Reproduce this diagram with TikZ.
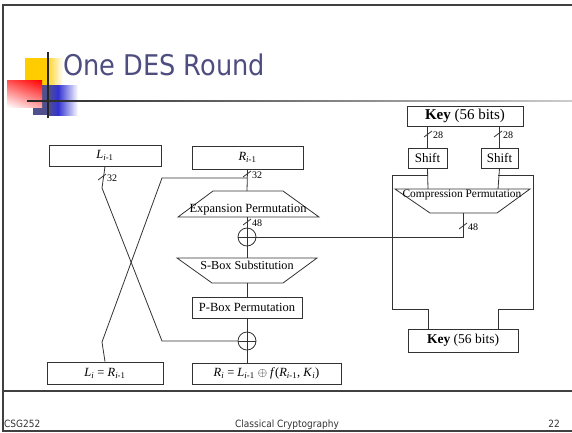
\documentclass[tikz,border=0pt]{standalone}
\usepackage{fontspec}
\setmainfont{Liberation Serif}
\newfontfamily\slidefont{DejaVu Sans Condensed}
\usetikzlibrary{shadings}
\definecolor{titleblue}{RGB}{78,77,128}
\definecolor{linegray}{RGB}{50,50,50}
\definecolor{framegray}{RGB}{64,64,64}
\definecolor{deco yellow}{RGB}{255,204,0}
\definecolor{deco blue}{RGB}{80,80,140}
\definecolor{deco bright}{RGB}{50,50,210}
\newcommand{\imo}{\textsubscript{\itshape i\upshape -1}}
\newcommand{\isub}{\textsubscript{\itshape i}}
\tikzset{
  box/.style={draw=linegray, line width=0.8pt, inner sep=0pt, font=\fontsize{12.5}{14}\selectfont},
  boxtext/.style={inner sep=0pt, font=\fontsize{12.5}{14}\selectfont},
  bits/.style={anchor=west, inner sep=0pt, font=\fontsize{10}{11}\selectfont},
  xor/.style={circle, draw=linegray, line width=0.8pt, minimum size=18pt, inner sep=0pt,
    path picture={\draw[linegray, line width=0.8pt] (path picture bounding box.north) -- (path picture bounding box.south)
      (path picture bounding box.west) -- (path picture bounding box.east);}},
  wire/.style={linegray, line width=0.8pt},
  foot/.style={anchor=base, inner sep=0pt, text=black!80, font=\slidefont\fontsize{10}{12}\selectfont}
}
\begin{document}
\begin{tikzpicture}[x=1pt,y=-1pt]
\useasboundingbox (0,0) rectangle (572,432);
% Slide frame
\draw[framegray, line width=2pt] (3,4.5) -- (572,4.5);
\draw[framegray, line width=1.5pt] (3,4) -- (3,432);
\draw[framegray, line width=1.5pt] (3,391) -- (572,391);
\draw[framegray, line width=1.5pt] (3,431) -- (572,431);

% Title decoration
\fill[deco yellow] (25,58) rectangle (45,85);
\shade[left color=deco yellow, right color=white] (45,58) rectangle (63,85);
\fill[deco blue] (33,85) rectangle (48,115);
\shade[left color=deco blue, right color=deco bright] (48,85) rectangle (58,115);
\shade[left color=deco bright, right color=white] (58,85) rectangle (78,115);
\shade[upper right=red, upper left=red!70!white, lower right=red!35!white, lower left=white] (7,80) rectangle (42,107);
\draw[black!85, line width=1.5pt] (48,52) -- (48,118);
\shade[left color=black!85, right color=black!20] (27,100.2) rectangle (572,101.8);
\node[anchor=base west, inner sep=0pt, text=titleblue, font=\slidefont\fontsize{28.5}{31}\selectfont] (title) at (63,75) {One DES Round};

% Left and right halves
\node[box, minimum width=112pt, minimum height=21pt] (lprev) at (105,155.5) {\textit{L}\imo};
\node[box, minimum width=111pt, minimum height=23pt] (rprev) at (247.5,157.5) {\textit{R}\imo};
\node[box, minimum width=116pt, minimum height=22pt] (lnext) at (105,373) {\textit{L}\isub{} = \textit{R}\imo};
\node[box, minimum width=149pt, minimum height=21pt] (rnext) at (266.5,373.5) {\textit{R}\isub{} = \textit{L}\imo{} $\oplus$ \textit{f}(\textit{R}\imo, \textit{K}\isub)};

% Expansion permutation
\coordinate (exptop) at (247,191);
\coordinate (expbot) at (247,217);
\draw[wire] (213,191) -- (283,191) -- (319,217) -- (178,217) -- cycle;
\node[boxtext] (exptext) at (248,210) {Expansion Permutation};

% XOR nodes
\node[xor] (xa) at (247,237) {};
\node[xor] (xb) at (247,341) {};

% S-box substitution
\coordinate (sboxtop) at (247,258);
\coordinate (sboxbot) at (247,283);
\draw[wire] (177,258) -- (317,258) -- (283,283) -- (212,283) -- cycle;
\node[boxtext, font=\fontsize{12.2}{14}\selectfont] (sboxtext) at (247,265) {S-Box Substitution};

\node[box, minimum width=110pt, minimum height=21pt] (pbox) at (247,307.5) {P-Box Permutation};

% Key schedule
\node[box, minimum width=116pt, minimum height=20pt, font=\fontsize{15}{17}\selectfont] (keytop) at (465,116) {\textbf{Key} (56 bits)};
\node[box, minimum width=39pt, minimum height=20pt, font=\fontsize{13}{15}\selectfont] (shiftl) at (427.5,158) {Shift};
\node[box, minimum width=37pt, minimum height=20pt, font=\fontsize{13}{15}\selectfont] (shiftr) at (499.5,158) {Shift};
\node[box, minimum width=110pt, minimum height=23pt, font=\fontsize{13.5}{15}\selectfont] (keybot) at (463,340.5) {\textbf{Key} (56 bits)};
\coordinate (comptop l) at (428,189);
\coordinate (comptop r) at (498,189);
\coordinate (compbot) at (463,213);
\draw[wire] (395,189) -- (530,189) -- (497,213) -- (430,213) -- cycle;
\node[boxtext, font=\fontsize{11.4}{13}\selectfont] (comptext) at (462,195) {Compression Permutation};

% Data path
\draw[wire] (rprev.south) -- (exptop);
\draw[wire] (247,178) -- (162,178) -- (102,342) -- (lnext.north);
\draw[wire] (lprev.south) -- (102,188) -- (162,341) -- (xb.west);
\draw[wire] (expbot) -- (xa.north);
\draw[wire] (xa.south) -- (sboxtop);
\draw[wire] (sboxbot) -- (pbox.north);
\draw[wire] (pbox.south) -- (xb.north);
\draw[wire] (xb.south) -- (rnext.north -| xb);

% Key path
\draw[wire] (keytop.south -| shiftl) -- (shiftl.north);
\draw[wire] (keytop.south -| shiftr) -- (shiftr.north);
\draw[wire] (shiftl.south) -- (comptop l);
\draw[wire] (shiftr.south) -- (comptop r);
\draw[wire] (428,175) -- (392,175) -- (392,309) -- (428,309) -- (keybot.north -| 428,0);
\draw[wire] (498,175) -- (533,175) -- (533,309) -- (498,309) -- (keybot.north -| 498,0);
\draw[wire] (compbot) -- (463,237) -- (xa.east);

% Bit widths
\foreach \x/\y/\n in {102/177/32, 247/174/32, 247/222/48, 428/134/28, 498/134/28, 463/226/48} {
  \draw[wire] (\x-4,\y+3) -- (\x+4,\y-3);
  \node[bits] (w\x-\y) at (\x+5,\y+1) {\n};
}

% Footer
\node[foot, anchor=base west] (ftl) at (4,427) {CSG252};
\node[foot] (ftc) at (287,427) {Classical Cryptography};
\node[foot, anchor=base east] (ftr) at (560,427) {22};
\end{tikzpicture}
\end{document}
